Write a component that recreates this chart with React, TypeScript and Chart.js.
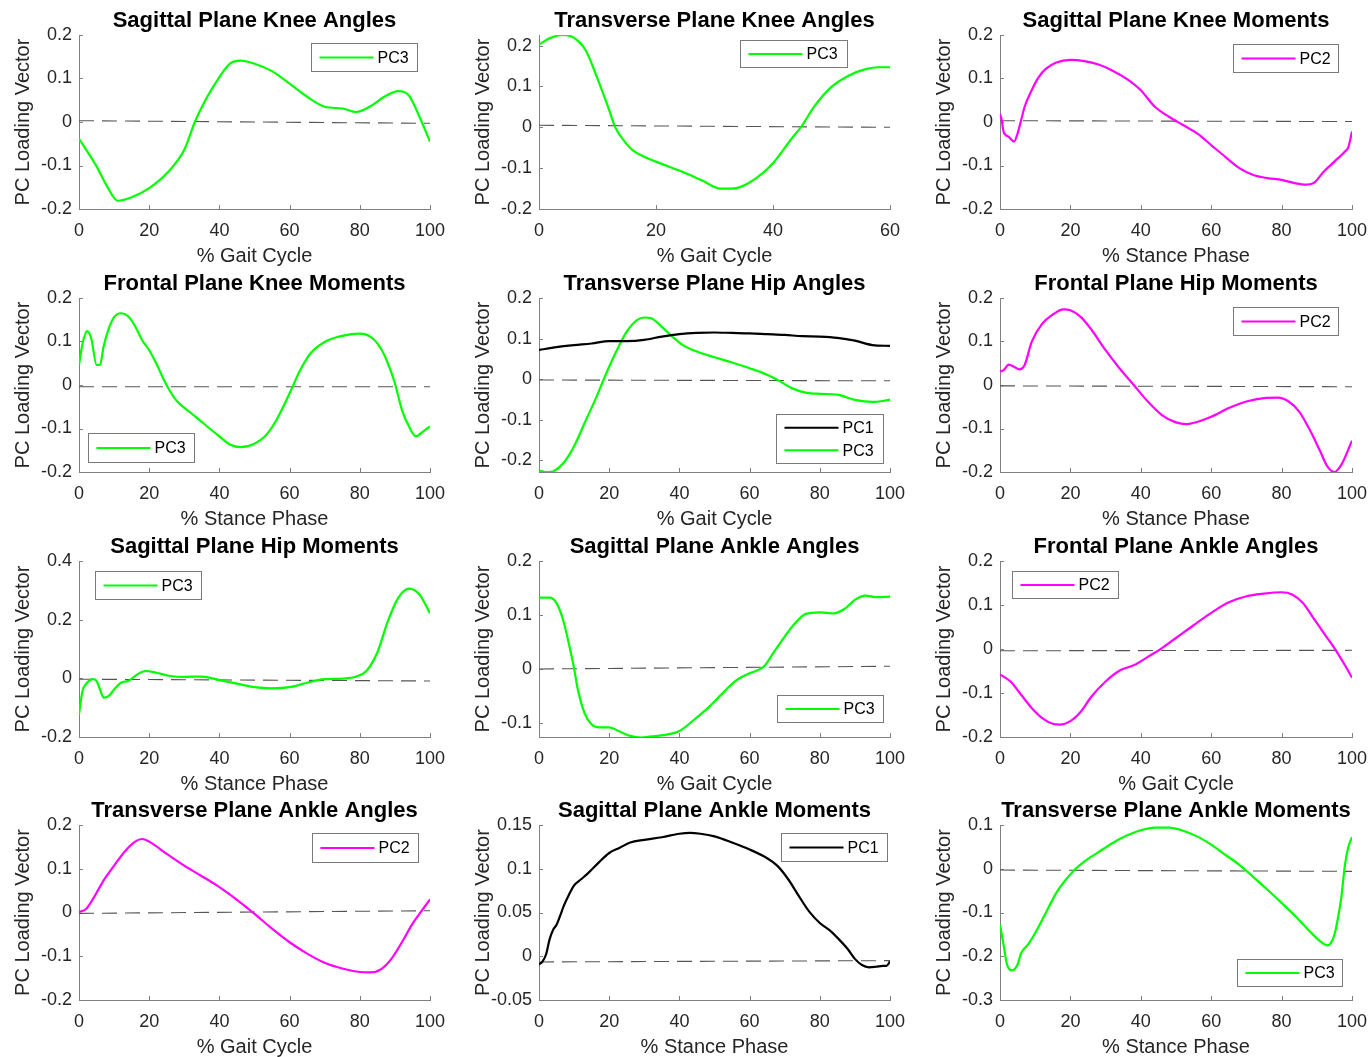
import React, { useEffect, useRef } from 'react';
import { Chart, registerables } from 'chart.js';
Chart.register(...registerables);

// ---------- colours / text ----------
const GREEN = '#00ff00';
const MAGENTA = '#ff00ff';
const BLACK = '#000000';
const Y_LABEL = 'PC Loading Vector';
const GAIT = '% Gait Cycle';
const STANCE = '% Stance Phase';

// ---------- tick labels ----------
const ticks0to100 = [0, 20, 40, 60, 80, 100];
const ticks0to60 = [0, 20, 40, 60];
const yTicksPm02 = [-0.2, -0.1, 0, 0.1, 0.2];
const yTicksHipMom = [-0.2, 0, 0.2, 0.4];
const yTicksAnkleAng = [-0.1, 0, 0.1, 0.2];
const yTicksAnkleMom = [-0.05, 0, 0.05, 0.1, 0.15];
const yTicksTransAnkleMom = [-0.3, -0.2, -0.1, 0, 0.1];

// ---------- data ----------
// 1 Sagittal Plane Knee Angles (PC3)
const sagKneeAngX = [0, 5, 8, 11, 15, 20, 25, 30, 33, 36, 40, 43, 46, 50, 55, 60, 65, 70, 75, 79, 83, 87, 91, 94, 97, 100];
const sagKneeAngPC3 = [-0.038, -0.102, -0.148, -0.181, -0.173, -0.152, -0.118, -0.064, 0, 0.05, 0.103, 0.134, 0.141, 0.134, 0.117, 0.088, 0.058, 0.035, 0.031, 0.023, 0.036, 0.058, 0.071, 0.061, 0.012, -0.045];
const sagKneeAngZero = [0.003, -0.003];

// 2 Transverse Plane Knee Angles (PC3)
const trKneeAngX = [0, 2, 4, 6, 8, 10, 12, 13, 14, 16, 18, 20, 25, 28, 31, 33, 36, 40, 43, 45, 47, 50, 53, 56, 58, 60];
const trKneeAngPC3 = [0.203, 0.219, 0.226, 0.219, 0.188, 0.119, 0.042, 0.001, -0.023, -0.056, -0.072, -0.084, -0.112, -0.131, -0.15, -0.15, -0.135, -0.088, -0.031, 0.005, 0.05, 0.099, 0.127, 0.143, 0.147, 0.147];
const trKneeAngZero = [0.005, 0.0];

// 3 Sagittal Plane Knee Moments (PC2)
const sagKneeMomX = [0, 0.5, 1, 2.5, 4, 5, 6, 7, 9, 11, 13, 16, 20, 24, 28, 32, 36, 40, 44, 48, 52, 56, 60, 64, 68, 72, 76, 80, 84, 87, 89, 92, 95, 98, 99, 100];
const sagKneeMomPC2 = [0.019, 0.004, -0.022, -0.034, -0.045, -0.026, 0.004, 0.035, 0.073, 0.103, 0.122, 0.137, 0.143, 0.14, 0.132, 0.118, 0.099, 0.073, 0.035, 0.012, -0.007, -0.026, -0.053, -0.08, -0.106, -0.122, -0.129, -0.133, -0.141, -0.144, -0.141, -0.114, -0.091, -0.068, -0.057, -0.022];
const sagKneeMomZero = [0.003, 0.001];

// 4 Frontal Plane Knee Moments (PC3)
const frKneeMomX = [0, 1, 2.3, 3.5, 5, 6, 7, 8.5, 10, 12, 14, 16, 18, 20, 22, 24, 26, 28, 32, 36, 40, 43, 46, 50, 53, 56, 60, 63, 66, 70, 75, 80, 83, 86, 88, 90, 92, 94, 96, 98, 100];
const frKneeMomPC3 = [0.046, 0.095, 0.124, 0.107, 0.046, 0.046, 0.088, 0.13, 0.156, 0.165, 0.158, 0.135, 0.103, 0.08, 0.05, 0.015, -0.015, -0.038, -0.065, -0.092, -0.118, -0.137, -0.143, -0.135, -0.118, -0.084, -0.019, 0.034, 0.073, 0.099, 0.113, 0.118, 0.111, 0.084, 0.05, 0.004, -0.057, -0.095, -0.118, -0.107, -0.095];
const frKneeMomZero = [-0.004, -0.004];

// 5 Transverse Plane Hip Angles (PC1, PC3)
const trHipAngX1 = [0, 5, 10, 15, 20, 25, 30, 35, 40, 45, 50, 55, 60, 65, 70, 75, 80, 85, 90, 95, 100];
const trHipAngPC1 = [0.072, 0.079, 0.084, 0.088, 0.094, 0.094, 0.097, 0.105, 0.111, 0.114, 0.115, 0.114, 0.113, 0.111, 0.109, 0.106, 0.105, 0.102, 0.095, 0.084, 0.082];
const trHipAngX3 = [0, 2, 4, 7, 10, 13, 16, 19, 22, 25, 28, 30, 32, 35, 38, 41, 45, 50, 55, 60, 65, 68, 72, 76, 80, 85, 90, 95, 100];
const trHipAngPC3 = [-0.225, -0.229, -0.227, -0.206, -0.165, -0.108, -0.051, 0.011, 0.068, 0.117, 0.146, 0.152, 0.15, 0.129, 0.105, 0.084, 0.068, 0.054, 0.041, 0.027, 0.011, -0.002, -0.022, -0.033, -0.036, -0.038, -0.051, -0.056, -0.051];
const trHipAngZero = [-0.002, -0.004];

// 6 Frontal Plane Hip Moments (PC2)
const frHipMomX = [0, 1, 2.5, 4, 5.5, 7, 9, 12, 15, 18, 20, 23, 26, 30, 34, 38, 42, 46, 50, 53, 56, 60, 65, 70, 75, 79, 82, 85, 88, 91, 93, 95, 97, 100];
const frHipMomPC2 = [0.031, 0.034, 0.047, 0.042, 0.036, 0.046, 0.099, 0.141, 0.162, 0.174, 0.172, 0.156, 0.127, 0.08, 0.038, 0.0, -0.038, -0.069, -0.086, -0.09, -0.085, -0.073, -0.053, -0.038, -0.03, -0.029, -0.038, -0.061, -0.103, -0.153, -0.187, -0.2, -0.183, -0.128];
const frHipMomZero = [-0.002, -0.004];

// 7 Sagittal Plane Hip Moments (PC3)
const sagHipMomX = [0, 1, 2, 4, 5, 6, 7, 8.5, 10, 12, 14, 17, 19, 22, 26, 30, 35, 40, 45, 50, 55, 60, 65, 70, 75, 79, 82, 85, 88, 91, 94, 97, 100];
const sagHipMomPC3 = [-0.123, -0.043, -0.02, -0.003, -0.009, -0.038, -0.066, -0.06, -0.038, -0.015, -0.009, 0.016, 0.025, 0.019, 0.008, 0.005, 0.006, -0.006, -0.018, -0.03, -0.034, -0.03, -0.015, -0.003, -0.001, 0.006, 0.027, 0.088, 0.195, 0.275, 0.306, 0.286, 0.222];
const sagHipMomZero = [-0.003, -0.009];

// 8 Sagittal Plane Ankle Angles (PC3)
const sagAnkAngX = [0, 3, 5, 7, 9, 10, 11, 13, 15, 17, 20, 23, 26, 29, 32, 36, 40, 44, 48, 52, 56, 60, 64, 67, 70, 73, 76, 80, 84, 87, 90, 93, 96, 100];
const sagAnkAngPC3 = [0.132, 0.132, 0.122, 0.088, 0.032, 0.001, -0.036, -0.082, -0.103, -0.108, -0.108, -0.116, -0.124, -0.127, -0.125, -0.122, -0.115, -0.095, -0.073, -0.047, -0.022, -0.008, 0.004, 0.032, 0.06, 0.085, 0.102, 0.105, 0.103, 0.111, 0.128, 0.136, 0.133, 0.134];
const sagAnkAngZero = [0.0, 0.005];

// 9 Frontal Plane Ankle Angles (PC2)
const frAnkAngX = [0, 3, 6, 9, 12, 15, 17, 20, 23, 26, 30, 34, 38, 42, 46, 50, 55, 60, 65, 70, 75, 80, 83, 86, 89, 92, 95, 98, 100];
const frAnkAngPC2 = [-0.058, -0.074, -0.104, -0.134, -0.157, -0.17, -0.172, -0.164, -0.142, -0.108, -0.074, -0.049, -0.037, -0.018, 0.002, 0.025, 0.054, 0.082, 0.106, 0.12, 0.126, 0.129, 0.124, 0.105, 0.071, 0.036, 0.002, -0.037, -0.065];
const frAnkAngZero = [-0.004, -0.003];

// 10 Transverse Plane Ankle Angles (PC2)
const trAnkAngX = [0, 2, 4, 7, 10, 13, 16, 18, 20, 25, 30, 35, 40, 45, 50, 55, 60, 65, 70, 75, 80, 83, 86, 89, 92, 95, 98, 100];
const trAnkAngPC2 = [0.001, 0.008, 0.031, 0.073, 0.107, 0.139, 0.162, 0.168, 0.162, 0.134, 0.107, 0.083, 0.058, 0.029, -0.003, -0.037, -0.068, -0.094, -0.115, -0.128, -0.136, -0.137, -0.13, -0.106, -0.068, -0.026, 0.008, 0.03];
const trAnkAngZero = [-0.002, 0.004];

// 11 Sagittal Plane Ankle Moments (PC1)
const sagAnkMomX = [0, 1, 2, 3, 4, 5, 6, 7, 8.5, 10, 12, 14, 17, 20, 23, 26, 30, 35, 40, 43, 46, 50, 55, 60, 65, 68, 71, 74, 77, 80, 83, 86, 88, 90, 92, 94, 96, 98, 99, 100];
const sagAnkMomPC1 = [-0.0095, -0.006, 0.002, 0.019, 0.03, 0.036, 0.046, 0.057, 0.07, 0.081, 0.088, 0.095, 0.107, 0.118, 0.124, 0.13, 0.133, 0.136, 0.14, 0.141, 0.14, 0.137, 0.13, 0.122, 0.112, 0.103, 0.088, 0.069, 0.051, 0.038, 0.029, 0.017, 0.008, -0.003, -0.01, -0.0126, -0.012, -0.011, -0.011, -0.006];
const sagAnkMomZero = [-0.0065, -0.005];

// 12 Transverse Plane Ankle Moments (PC3)
const trAnkMomX = [0, 1, 2, 3.5, 5, 6, 8, 10, 13, 16, 18, 21, 24, 28, 32, 36, 40, 44, 48, 52, 56, 60, 64, 68, 72, 76, 80, 84, 88, 91, 93, 94, 95, 96, 97, 98, 99, 100];
const trAnkMomPC3 = [-0.128, -0.173, -0.219, -0.232, -0.219, -0.193, -0.173, -0.147, -0.101, -0.055, -0.032, -0.004, 0.017, 0.038, 0.059, 0.076, 0.088, 0.094, 0.094, 0.087, 0.074, 0.055, 0.032, 0.009, -0.019, -0.048, -0.078, -0.109, -0.143, -0.166, -0.175, -0.17, -0.151, -0.113, -0.063, 0.009, 0.051, 0.072];
const trAnkMomZero = [-0.003, -0.006];

// ---------- layout (positions / sizes only) ----------
const COL_LEFT = [79, 539, 1000];
const COL_W = [351, 351, 352];
const ROW_TOP = [35, 298, 561, 825];
const ROW_H = [174, 174, 176, 175];
const Y_AXIS_W = 79;
const TITLE_H = 35;
const X_AXIS_H = 59;
const RIGHT_PAD = 18;
const AXIS_COLOR = '#808080';
const TEXT_COLOR = '#262626';
const FONT = '"Liberation Sans", Arial, Helvetica, sans-serif';

type Series = { label: string; color: string; x: number[]; y: number[] };
type PanelCfg = {
  title: string; xLabel: string; xMax: number; xTicks: number[];
  yMin: number; yMax: number; yTicks: number[];
  series: Series[]; zero: number[];
  row: number; col: number;
  legend: { dx: number; dy: number; w: number; h: number };
};

const panels: PanelCfg[] = [
  { title: 'Sagittal Plane Knee Angles', xLabel: GAIT, xMax: 100, xTicks: ticks0to100, yMin: -0.2, yMax: 0.2, yTicks: yTicksPm02,
    series: [{ label: 'PC3', color: GREEN, x: sagKneeAngX, y: sagKneeAngPC3 }], zero: sagKneeAngZero, row: 0, col: 0, legend: { dx: 232, dy: 8, w: 106, h: 28 } },
  { title: 'Transverse Plane Knee Angles', xLabel: GAIT, xMax: 60, xTicks: ticks0to60, yMin: -0.2, yMax: 0.226, yTicks: yTicksPm02,
    series: [{ label: 'PC3', color: GREEN, x: trKneeAngX, y: trKneeAngPC3 }], zero: trKneeAngZero, row: 0, col: 1, legend: { dx: 201, dy: 5, w: 107, h: 27 } },
  { title: 'Sagittal Plane Knee Moments', xLabel: STANCE, xMax: 100, xTicks: ticks0to100, yMin: -0.2, yMax: 0.2, yTicks: yTicksPm02,
    series: [{ label: 'PC2', color: MAGENTA, x: sagKneeMomX, y: sagKneeMomPC2 }], zero: sagKneeMomZero, row: 0, col: 2, legend: { dx: 233, dy: 9, w: 105, h: 28 } },
  { title: 'Frontal Plane Knee Moments', xLabel: STANCE, xMax: 100, xTicks: ticks0to100, yMin: -0.2, yMax: 0.2, yTicks: yTicksPm02,
    series: [{ label: 'PC3', color: GREEN, x: frKneeMomX, y: frKneeMomPC3 }], zero: frKneeMomZero, row: 1, col: 0, legend: { dx: 9, dy: 135, w: 106, h: 29 } },
  { title: 'Transverse Plane Hip Angles', xLabel: GAIT, xMax: 100, xTicks: ticks0to100, yMin: -0.2286, yMax: 0.2, yTicks: yTicksPm02,
    series: [{ label: 'PC1', color: BLACK, x: trHipAngX1, y: trHipAngPC1 }, { label: 'PC3', color: GREEN, x: trHipAngX3, y: trHipAngPC3 }], zero: trHipAngZero, row: 1, col: 1, legend: { dx: 237, dy: 116, w: 107, h: 49 } },
  { title: 'Frontal Plane Hip Moments', xLabel: STANCE, xMax: 100, xTicks: ticks0to100, yMin: -0.2, yMax: 0.2, yTicks: yTicksPm02,
    series: [{ label: 'PC2', color: MAGENTA, x: frHipMomX, y: frHipMomPC2 }], zero: frHipMomZero, row: 1, col: 2, legend: { dx: 233, dy: 9, w: 105, h: 28 } },
  { title: 'Sagittal Plane Hip Moments', xLabel: STANCE, xMax: 100, xTicks: ticks0to100, yMin: -0.2, yMax: 0.4, yTicks: yTicksHipMom,
    series: [{ label: 'PC3', color: GREEN, x: sagHipMomX, y: sagHipMomPC3 }], zero: sagHipMomZero, row: 2, col: 0, legend: { dx: 16, dy: 10, w: 106, h: 28 } },
  { title: 'Sagittal Plane Ankle Angles', xLabel: GAIT, xMax: 100, xTicks: ticks0to100, yMin: -0.126, yMax: 0.2, yTicks: yTicksAnkleAng,
    series: [{ label: 'PC3', color: GREEN, x: sagAnkAngX, y: sagAnkAngPC3 }], zero: sagAnkAngZero, row: 2, col: 1, legend: { dx: 238, dy: 134, w: 106, h: 27 } },
  { title: 'Frontal Plane Ankle Angles', xLabel: GAIT, xMax: 100, xTicks: ticks0to100, yMin: -0.2, yMax: 0.2, yTicks: yTicksPm02,
    series: [{ label: 'PC2', color: MAGENTA, x: frAnkAngX, y: frAnkAngPC2 }], zero: frAnkAngZero, row: 2, col: 2, legend: { dx: 12, dy: 10, w: 106, h: 27 } },
  { title: 'Transverse Plane Ankle Angles', xLabel: GAIT, xMax: 100, xTicks: ticks0to100, yMin: -0.2, yMax: 0.2, yTicks: yTicksPm02,
    series: [{ label: 'PC2', color: MAGENTA, x: trAnkAngX, y: trAnkAngPC2 }], zero: trAnkAngZero, row: 3, col: 0, legend: { dx: 233, dy: 8, w: 106, h: 29 } },
  { title: 'Sagittal Plane Ankle Moments', xLabel: STANCE, xMax: 100, xTicks: ticks0to100, yMin: -0.05, yMax: 0.15, yTicks: yTicksAnkleMom,
    series: [{ label: 'PC1', color: BLACK, x: sagAnkMomX, y: sagAnkMomPC1 }], zero: sagAnkMomZero, row: 3, col: 1, legend: { dx: 242, dy: 8, w: 106, h: 28 } },
  { title: 'Transverse Plane Ankle Moments', xLabel: STANCE, xMax: 100, xTicks: ticks0to100, yMin: -0.3, yMax: 0.1, yTicks: yTicksTransAnkleMom,
    series: [{ label: 'PC3', color: GREEN, x: trAnkMomX, y: trAnkMomPC3 }], zero: trAnkMomZero, row: 3, col: 2, legend: { dx: 237, dy: 134, w: 105, h: 27 } },
];

const fmt = (v: number) => String(Math.round(v * 1000) / 1000);

function Panel({ cfg }: { cfg: PanelCfg }) {
  const ref = useRef<HTMLCanvasElement>(null);
  const cw = COL_W[cfg.col];
  const ch = ROW_H[cfg.row];
  const W = Y_AXIS_W + cw + RIGHT_PAD;
  const H = TITLE_H + ch + X_AXIS_H;
  const left = COL_LEFT[cfg.col] - Y_AXIS_W;
  const top = ROW_TOP[cfg.row] - TITLE_H;

  useEffect(() => {
    if (!ref.current) return;
    const inwardTicks = {
      id: 'inwardTicks',
      beforeDatasetsDraw(chart: any) {
        const { ctx, chartArea, scales } = chart;
        ctx.save();
        ctx.strokeStyle = AXIS_COLOR;
        ctx.lineWidth = 1;
        scales.x.ticks.forEach((t: any) => {
          const px = Math.round(scales.x.getPixelForValue(t.value)) + 0.5;
          ctx.beginPath();
          ctx.moveTo(px, chartArea.bottom);
          ctx.lineTo(px, chartArea.bottom - 4);
          ctx.stroke();
        });
        scales.y.ticks.forEach((t: any) => {
          const py = Math.round(scales.y.getPixelForValue(t.value)) + 0.5;
          ctx.beginPath();
          ctx.moveTo(chartArea.left, py);
          ctx.lineTo(chartArea.left + 4, py);
          ctx.stroke();
        });
        ctx.restore();
      },
    };
    const boxLegend = {
      id: 'boxLegend',
      afterDraw(chart: any) {
        const { ctx, chartArea } = chart;
        const L = cfg.legend;
        const x0 = Math.round(chartArea.left + L.dx) + 0.5;
        const y0 = Math.round(chartArea.top + L.dy) + 0.5;
        ctx.save();
        ctx.fillStyle = '#ffffff';
        ctx.fillRect(x0, y0, L.w, L.h);
        ctx.strokeStyle = '#7a7a7a';
        ctx.lineWidth = 1;
        ctx.strokeRect(x0, y0, L.w, L.h);
        const n = cfg.series.length;
        const rowH = L.h / n;
        cfg.series.forEach((s, i) => {
          const cy = y0 + rowH * (i + 0.5) + (n > 1 ? (i === 0 ? 1 : -1) : 0);
          ctx.strokeStyle = s.color;
          ctx.lineWidth = 2;
          ctx.beginPath();
          ctx.moveTo(x0 + 8, cy);
          ctx.lineTo(x0 + 62, cy);
          ctx.stroke();
          ctx.fillStyle = '#000000';
          ctx.font = `16px ${FONT}`;
          ctx.textBaseline = 'middle';
          ctx.textAlign = 'left';
          ctx.fillText(s.label, x0 + 66, cy + 1);
        });
        ctx.restore();
      },
    };

    const datasets: any[] = cfg.series.map((s) => ({
      label: s.label,
      data: s.x.map((x, i) => ({ x, y: s.y[i] })),
      borderColor: s.color,
      backgroundColor: s.color,
      borderWidth: 2.2,
      pointRadius: 0,
      cubicInterpolationMode: 'monotone',
      fill: false,
    }));
    datasets.push({
      label: 'zero',
      data: [{ x: 0, y: cfg.zero[0] }, { x: cfg.xMax, y: cfg.zero[1] }],
      borderColor: '#555555',
      borderWidth: 1.1,
      borderDash: [15, 8],
      pointRadius: 0,
      fill: false,
    });

    const chart = new Chart(ref.current, {
      type: 'line',
      data: { datasets },
      options: {
        animation: false,
        responsive: false,
        maintainAspectRatio: false,
        devicePixelRatio: 1,
        layout: { padding: { left: 0, right: RIGHT_PAD, top: 0, bottom: 0 } },
        plugins: {
          legend: { display: false },
          tooltip: { enabled: false },
          title: {
            display: true,
            text: cfg.title,
            fullSize: false,
            color: '#000000',
            font: { family: FONT, size: 22, weight: 'bold', lineHeight: 1.2 },
            padding: { top: 8, bottom: 0.6 },
          },
        },
        scales: {
          x: {
            type: 'linear',
            min: 0,
            max: cfg.xMax,
            grid: { display: false, drawTicks: false },
            border: { display: true, color: AXIS_COLOR, width: 1 },
            afterBuildTicks: (scale: any) => { scale.ticks = cfg.xTicks.map((v) => ({ value: v })); },
            afterFit: (scale: any) => { scale.height = X_AXIS_H; scale.paddingLeft = 0; scale.paddingRight = 0; },
            ticks: {
              color: TEXT_COLOR, padding: 11, maxRotation: 0, autoSkip: false,
              font: { family: FONT, size: 18 },
              callback: (v: any) => fmt(Number(v)),
            },
            title: {
              display: true, text: cfg.xLabel, color: TEXT_COLOR,
              font: { family: FONT, size: 20, lineHeight: 1.2 },
              padding: { top: 0, bottom: 0 },
            },
          },
          y: {
            type: 'linear',
            min: cfg.yMin,
            max: cfg.yMax,
            grid: { display: false, drawTicks: false },
            border: { display: true, color: AXIS_COLOR, width: 1 },
            afterBuildTicks: (scale: any) => { scale.ticks = cfg.yTicks.map((v) => ({ value: v })); },
            afterFit: (scale: any) => { scale.width = Y_AXIS_W; scale.paddingTop = 0; scale.paddingBottom = 0; },
            ticks: {
              color: TEXT_COLOR, padding: 7, autoSkip: false,
              font: { family: FONT, size: 18 },
              callback: (v: any) => fmt(Number(v)),
            },
            title: {
              display: true, text: Y_LABEL, color: TEXT_COLOR,
              font: { family: FONT, size: 20, lineHeight: 1.2 },
              padding: { top: 11, bottom: 0 },
            },
          },
        },
      } as any,
      plugins: [inwardTicks, boxLegend],
    });
    return () => chart.destroy();
  }, []);

  return (
    <canvas
      ref={ref}
      width={W}
      height={H}
      style={{ position: 'absolute', left, top, width: W, height: H }}
    />
  );
}

export default function App() {
  return (
    <div style={{ position: 'absolute', left: 0, top: 0, width: 1370, height: 1057, background: '#ffffff', overflow: 'hidden' }}>
      {panels.map((p, i) => (
        <Panel key={i} cfg={p} />
      ))}
    </div>
  );
}
